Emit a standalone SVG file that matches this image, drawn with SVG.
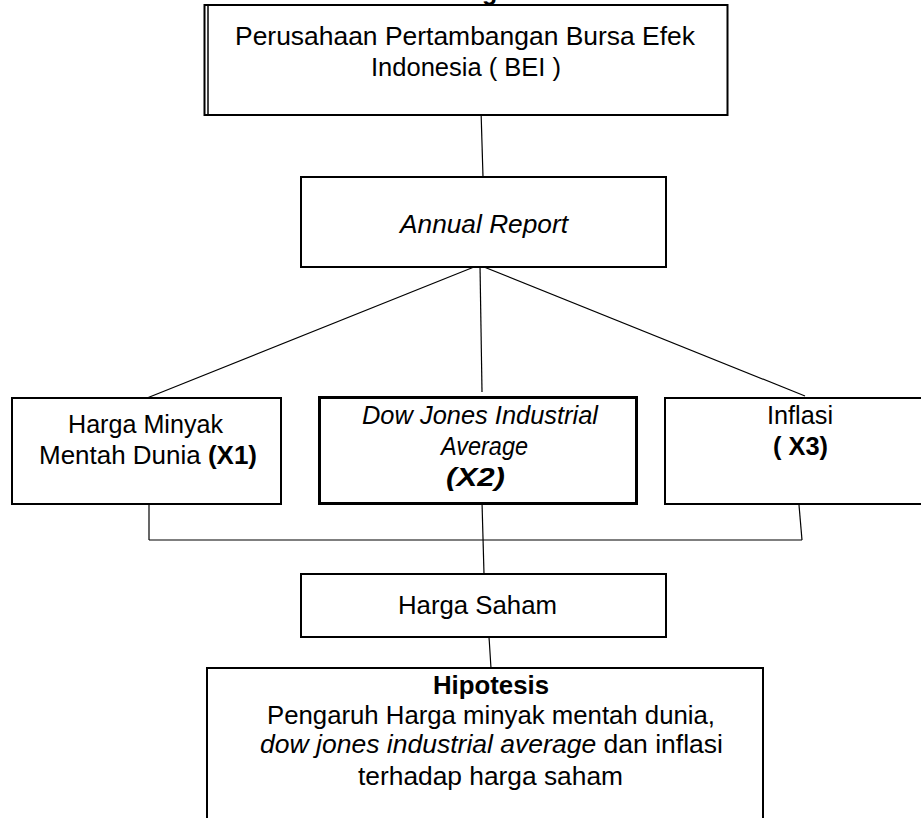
<svg xmlns="http://www.w3.org/2000/svg" width="921" height="818" viewBox="0 0 921 818">
<style>
.box{fill:#fff;stroke:#000;stroke-width:2}
.thick{stroke-width:3}
.con{stroke:#000;stroke-width:1.2;fill:none}
text{font-family:"Liberation Sans",Arial,sans-serif;font-size:25px;fill:#000}
.i{font-style:italic}
.b{font-weight:bold}
</style>
<rect width="921" height="818" fill="#fff"/>
<text class="b" x="482" y="0" font-size="22">g</text>
<g id="connectors">
<line class="con" x1="481" y1="110" x2="483" y2="177"/>
<line class="con" x1="479" y1="265" x2="147" y2="398"/>
<line class="con" x1="480" y1="265" x2="482" y2="392"/>
<line class="con" x1="479" y1="265" x2="805" y2="396"/>
<line class="con" x1="149" y1="505" x2="149" y2="540"/>
<line class="con" x1="799" y1="505" x2="802" y2="540"/>
<line class="con" x1="149" y1="540" x2="802" y2="540"/>
<line class="con" x1="482" y1="502" x2="484" y2="574"/>
<line class="con" x1="489" y1="637" x2="491" y2="668"/>
</g>
<g id="bei">
<rect class="box" x="204.5" y="5" width="523" height="110" stroke-width="2.5"/>
<line x1="208" y1="5" x2="208" y2="115" stroke="#000" stroke-width="1.5"/>
<text x="235" y="45" textLength="460" lengthAdjust="spacingAndGlyphs">Perusahaan Pertambangan Bursa Efek</text>
<text x="371" y="76" textLength="190" lengthAdjust="spacingAndGlyphs">Indonesia ( BEI )</text>
</g>
<g id="annual">
<rect class="box" x="301" y="177" width="365" height="90"/>
<text class="i" x="400" y="233" textLength="168" lengthAdjust="spacingAndGlyphs">Annual Report</text>
</g>
<g id="x1">
<rect class="box" x="12" y="398" width="269" height="106"/>
<text x="68" y="433" textLength="155" lengthAdjust="spacingAndGlyphs">Harga Minyak</text>
<text x="39" y="464" textLength="218" lengthAdjust="spacingAndGlyphs">Mentah Dunia <tspan class="b">(X1)</tspan></text>
</g>
<g id="x2">
<rect class="box thick" x="319.5" y="397.5" width="317" height="106"/>
<text class="i" x="362" y="424" textLength="236" lengthAdjust="spacingAndGlyphs">Dow Jones Industrial</text>
<text class="i" x="441" y="455" textLength="87" lengthAdjust="spacingAndGlyphs">Average</text>
<text class="i b" x="446" y="486" textLength="59" lengthAdjust="spacingAndGlyphs">(X2)</text>
</g>
<g id="x3">
<rect class="box" x="665" y="398" width="270" height="106"/>
<text x="767" y="424" textLength="66" lengthAdjust="spacingAndGlyphs">Inflasi</text>
<text class="b" x="773" y="455" textLength="55" lengthAdjust="spacingAndGlyphs">( X3)</text>
</g>
<g id="saham">
<rect class="box" x="301" y="574" width="365" height="63"/>
<text x="398" y="614" textLength="159" lengthAdjust="spacingAndGlyphs">Harga Saham</text>
</g>
<g id="hipotesis">
<rect class="box" x="207" y="668" width="556" height="170"/>
<text class="b" x="433" y="694" textLength="116" lengthAdjust="spacingAndGlyphs">Hipotesis</text>
<text x="267" y="724" textLength="448" lengthAdjust="spacingAndGlyphs">Pengaruh Harga minyak mentah dunia,</text>
<text x="260" y="753" textLength="463" lengthAdjust="spacingAndGlyphs"><tspan class="i">dow jones industrial average</tspan> dan inflasi</text>
<text x="358" y="785" textLength="265" lengthAdjust="spacingAndGlyphs">terhadap harga saham</text>
</g>
</svg>
